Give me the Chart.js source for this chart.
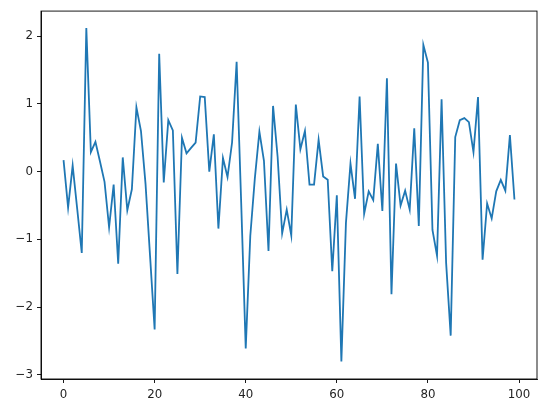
<!DOCTYPE html>
<html>
<head>
<meta charset="utf-8">
<script src="https://cdn.jsdelivr.net/npm/chart.js@4.4.0/dist/chart.umd.min.js"></script>
<style>
html,body{margin:0;padding:0;background:#fff;}
#wrap{width:546px;height:413px;}
</style>
</head>
<body>
<div id="wrap"><canvas id="c" width="546" height="413"></canvas></div>
<script>
const xValues = [0,1,2,3,4,5,6,7,8,9,10,11,12,13,14,15,16,17,18,19,20,21,22,23,24,25,26,27,28,29,30,31,32,33,34,35,36,37,38,39,40,41,42,43,44,45,46,47,48,49,50,51,52,53,54,55,56,57,58,59,60,61,62,63,64,65,66,67,68,69,70,71,72,73,74,75,76,77,78,79,80,81,82,83,84,85,86,87,88,89,90,91,92,93,94,95,96,97,98,99];
const seriesValues = [
  0.17,-0.53,0.09,-0.55,-1.20,2.12,0.29,0.44,0.15,-0.15,
  -0.82,-0.19,-1.36,0.21,-0.57,-0.26,0.95,0.60,-0.18,-1.25,
  -2.33,1.74,-0.16,0.76,0.61,-1.51,0.50,0.27,0.35,0.43,
  1.11,1.10,0.00,0.55,-0.84,0.20,-0.08,0.43,1.62,-0.45,
  -2.61,-0.95,-0.10,0.59,0.16,-1.17,0.97,0.22,-0.91,-0.56,
  -0.94,0.99,0.33,0.60,-0.19,-0.19,0.47,-0.07,-0.12,-1.47,
  -0.35,-2.80,-0.76,0.12,-0.40,1.11,-0.62,-0.29,-0.42,0.41,
  -0.58,1.38,-1.81,0.12,-0.50,-0.28,-0.56,0.64,-0.80,1.87,
  1.61,-0.86,-1.24,1.07,-1.35,-2.42,0.51,0.76,0.79,0.73,
  0.29,1.10,-1.30,-0.47,-0.69,-0.29,-0.12,-0.28,0.54,-0.41
];
const xTicks = [0,20,40,60,80,100];
const yTicks = [-3,-2,-1,0,1,2];

const fmt = v => (v < 0 ? '\u2212' + Math.abs(v) : String(v));

const frame = {
  id: 'frame',
  afterDraw(chart) {
    const a = chart.chartArea, ctx = chart.ctx;
    ctx.save();
    ctx.strokeStyle = '#000';
    ctx.lineWidth = 0.9;
    ctx.strokeRect(a.left, a.top, a.right - a.left, a.bottom - a.top);
    ctx.restore();
  }
};

const tickFont = {family: 'DejaVu Sans', size: 11.8};

new Chart(document.getElementById('c'), {
  type: 'line',
  data: {
    datasets: [{
      data: xValues.map((x, i) => ({x: x, y: seriesValues[i]})),
      borderColor: '#1f77b4',
      borderWidth: 1.8,
      pointRadius: 0,
      tension: 0,
      fill: false
    }]
  },
  options: {
    responsive: false,
    animation: false,
    devicePixelRatio: 1,
    layout: {padding: {left: 0, right: 9, top: 10, bottom: 0}},
    plugins: {legend: {display: false}, tooltip: {enabled: false}},
    scales: {
      x: {
        type: 'linear',
        min: -4.95,
        max: 103.95,
        afterBuildTicks: s => { s.ticks = xTicks.map(v => ({value: v})); },
        afterFit: s => { s.height = 34; },
        grid: {display: true, drawOnChartArea: false, drawTicks: true, tickLength: 4, color: '#000', lineWidth: 0.9},
        border: {display: true, color: '#000', width: 0.9},
        ticks: {color: '#222', font: tickFont, padding: 5, maxRotation: 0, callback: v => fmt(v)}
      },
      y: {
        type: 'linear',
        min: -3.06,
        max: 2.37,
        afterBuildTicks: s => { s.ticks = yTicks.map(v => ({value: v})); },
        afterFit: s => { s.width = 41; },
        grid: {display: true, drawOnChartArea: false, drawTicks: true, tickLength: 4, color: '#000', lineWidth: 0.9},
        border: {display: true, color: '#000', width: 0.9},
        ticks: {color: '#222', font: tickFont, padding: 4, callback: v => fmt(v)}
      }
    }
  },
  plugins: [frame]
});
</script>
</body>
</html>
